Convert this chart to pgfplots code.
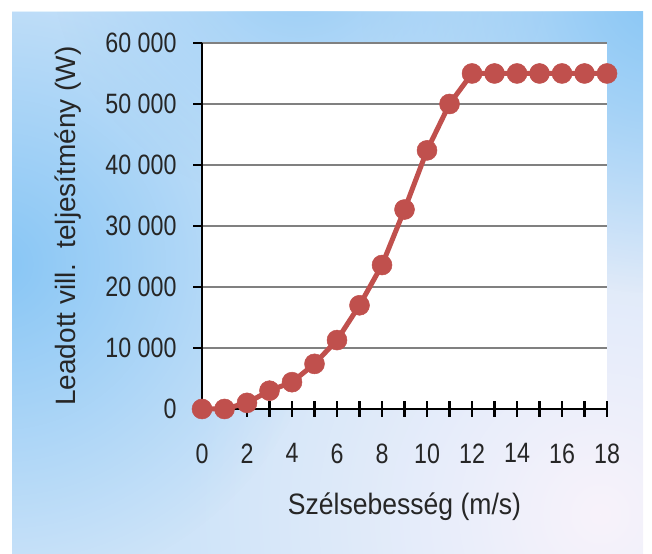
\documentclass[border=0pt]{standalone}
\usepackage{fontspec}
\setmainfont{Liberation Sans}
\newfontfamily\tickfont{Liberation Sans}[FakeStretch=0.83]
\newfontfamily\xlabfont{Liberation Sans}[FakeStretch=0.9]
\usepackage{pgfplots}
\pgfplotsset{compat=1.18}
\usetikzlibrary{fadings}
\definecolor{lineRed}{RGB}{192,80,77}
\definecolor{bgBlue}{RGB}{136,198,245}
\definecolor{bgBase}{RGB}{206,228,249}
\definecolor{bgLight}{RGB}{248,243,251}
\definecolor{gridGray}{RGB}{128,128,128}
\tikzfading[name=blob, inner color=transparent!0, outer color=transparent!100]
\begin{document}
\begin{tikzpicture}[x=1bp,y=1bp]
\useasboundingbox (0,0) rectangle (652,554);
\fill[white] (0,0) rectangle (652,554);
\begin{scope}
\clip (12,0) rectangle (643,542);
\fill[bgBase] (12,0) rectangle (643,542);
\fill[bgLight, path fading=blob] (600,40) circle (420);
\fill[bgBlue, path fading=blob] (0,290) circle (330);
\fill[bgBlue, path fading=blob] (660,560) circle (300);
\fill[bgBlue!80!bgBase, path fading=blob] (300,600) circle (250);
\end{scope}
\begin{axis}[
  scale only axis,
  width=405bp, height=366bp,
  at={(202bp,145bp)}, anchor=south west,
  xmin=0, xmax=18, ymin=0, ymax=60000,
  scaled y ticks=false,
  clip=false,
  axis background/.style={fill=white},
  axis lines*=left,
  axis line style={line width=2.5bp, black},
  xtick={0,1,...,18},
  xticklabels={0,,2,,4,,6,,8,,10,,12,,14,,16,,18},
  ytick={0,10000,...,60000},
  yticklabels={0,10 000,20 000,30 000,40 000,50 000,60 000},
  tick align=center,
  major tick length=16bp,
  tick style={line width=2.2bp, black},
  ytick style={xshift=-8bp, dash pattern=on 0bp off 7bp on 9bp},
  ymajorgrids,
  grid style={line width=1.5bp, gridGray},
  xticklabel style={font=\tickfont\fontsize{28bp}{30bp}\selectfont, text=black!85, yshift=-23bp},
  yticklabel style={font=\tickfont\fontsize{28bp}{30bp}\selectfont, text=black!85, xshift=-14bp},
  xlabel={Szélsebesség (m/s)},
  ylabel={Leadott vill.\ \ teljesítmény (W)},
  xlabel style={font=\xlabfont\fontsize{29.5bp}{31bp}\selectfont, text=black!85, at={(axis description cs:0.5,0)}, anchor=center, yshift=-98bp},
  ylabel style={font=\fontsize{28bp}{30bp}\selectfont, text=black!85, at={(axis description cs:0,0.5)}, anchor=center, yshift=134bp},
]
\addplot[color=lineRed, line width=5bp, mark=*, mark size=10bp, mark options={fill=lineRed, draw=lineRed, line width=0.5bp}]
coordinates {
(0,0) (1,0) (2,1000) (3,3000) (4,4400) (5,7400) (6,11300) (7,17000) (8,23600) (9,32700) (10,42400) (11,50000) (12,55000) (13,55000) (14,55000) (15,55000) (16,55000) (17,55000) (18,55000)
};
\end{axis}
\end{tikzpicture}
\end{document}
